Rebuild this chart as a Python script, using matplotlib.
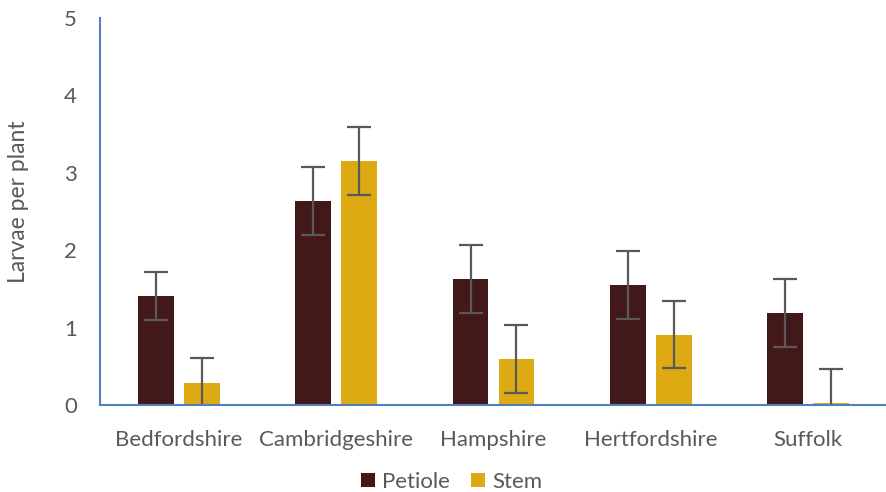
import matplotlib
matplotlib.use("Agg")
import matplotlib.pyplot as plt
import numpy as np

counties = ["Bedfordshire", "Cambridgeshire", "Hampshire", "Hertfordshire", "Suffolk"]
petiole = [1.41, 2.63, 1.63, 1.55, 1.19]
petiole_err = [0.31, 0.44, 0.435, 0.44, 0.44]
stem = [0.29, 3.15, 0.59, 0.91, 0.03]
stem_err = [0.32, 0.44, 0.44, 0.435, 0.44]
y_ticks = [0, 1, 2, 3, 4, 5]

plt.rcParams["font.family"] = ["Lato", "DejaVu Sans"]

text_col = "#595959"
axis_col = "#4F81BD"
petiole_col = "#431818"
stem_col = "#DDAA14"
err_col = "#595959"

fig = plt.figure(figsize=(8.87, 4.92), dpi=100)
ax = fig.add_axes([100 / 887, 1 - 405 / 492, 787 / 887, 387 / 492])

x = np.arange(len(counties))
w = 0.228
off = 0.146

ax.bar(x - off, petiole, w, color=petiole_col, label="Petiole", zorder=2)
ax.bar(x + off, stem, w, color=stem_col, label="Stem", zorder=2)

ekw = dict(fmt="none", ecolor=err_col, elinewidth=1.6, capsize=8.5, capthick=1.6, zorder=3)
ax.errorbar(x - off, petiole, yerr=petiole_err, **ekw)
ax.errorbar(x + off, stem, yerr=stem_err, **ekw)

ax.set_xlim(-0.5, len(counties) - 0.5)
ax.set_ylim(0, 5)
ax.set_yticks(y_ticks)
ax.set_xticks(x)
ax.set_xticklabels(counties)
ax.tick_params(axis="both", length=0, labelsize=16, colors=text_col)
ax.tick_params(axis="y", pad=16.5)
ax.tick_params(axis="x", pad=18)

for s in ("top", "right"):
    ax.spines[s].set_visible(False)
for s in ("left", "bottom"):
    ax.spines[s].set_color(axis_col)
    ax.spines[s].set_linewidth(1.5)
    ax.spines[s].set_zorder(4)

ax.set_ylabel("Larvae per plant", fontsize=16.5, color=text_col)
ax.yaxis.set_label_coords(-71 / 787, 0.525)

handles, labels = ax.get_legend_handles_labels()
fig.legend(handles, labels, loc="center", bbox_to_anchor=(452 / 887, 1 - 482 / 492),
           ncol=2, frameon=False, fontsize=16, labelcolor=text_col,
           handlelength=0.6, handleheight=0.6, handletextpad=0.35, columnspacing=0.95)

fig.savefig("out.png", dpi=100)
